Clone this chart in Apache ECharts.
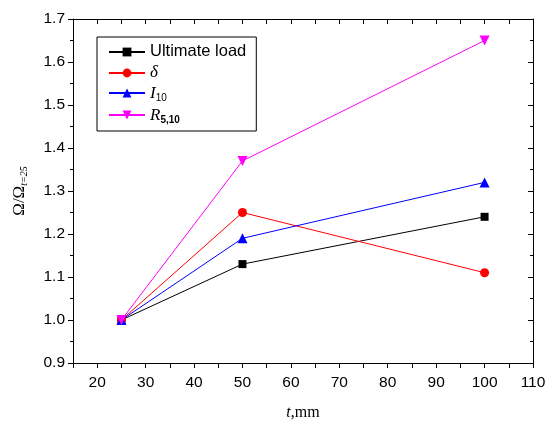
<!DOCTYPE html>
<html>
<head>
    <meta charset="utf-8"/>
    <script src="https://cdn.jsdelivr.net/npm/echarts@6/dist/echarts.min.js"></script>
</head>
<body style="margin:0;background:#fff;">
<div id="main" style="width: 548px;height:421px;"></div>
<script type="text/javascript">
    // 数据
    var thickness = [25, 50, 100];
    var ultimateLoad = [1.00, 1.13, 1.24];
    var delta = [1.00, 1.25, 1.11];
    var i10 = [1.00, 1.19, 1.32];
    var r510 = [1.00, 1.37, 1.65];

    function pairs(ys) {
        return thickness.map(function (x, k) { return [x, ys[k]]; });
    }

    var myChart = echarts.init(document.getElementById('main'));

    var sans = 'Liberation Sans, Arial, sans-serif';
    var serif = 'Liberation Serif, Times New Roman, serif';

    var legendRich = {
        n: {fontFamily: sans, fontSize: 16.5, color: '#000'},
        i: {fontFamily: serif, fontSize: 17, fontStyle: 'italic', color: '#000'},
        s: {fontFamily: sans, fontSize: 10, color: '#000', verticalAlign: 'bottom', padding: [9, 0, 0, 0]},
        sb: {fontFamily: sans, fontSize: 10, fontWeight: 'bold', color: '#000', verticalAlign: 'bottom', padding: [9, 0, 0, 0]}
    };
    var legendText = {
        'Ultimate load': '{n|Ultimate load}',
        'δ': '{i|δ}',
        'I10': '{i|I}{s|10}',
        'R5,10': '{i|R}{sb|5,10}'
    };

    function line(name, data, color, symbol, size) {
        return {
            name: name,
            type: 'line',
            data: pairs(data),
            symbol: symbol,
            symbolSize: size,
            lineStyle: {color: color, width: 1},
            itemStyle: {color: color},
            animation: false
        };
    }

    var option = {
        backgroundColor: '#fff',
        grid: {left: 73, right: 15, top: 19, bottom: 58, containLabel: false, outerBoundsMode: 'none'},
        legend: {
            orient: 'vertical',
            left: 97,
            top: 37,
            padding: [6, 10, 6, 11],
            itemGap: 4,
            itemWidth: 36,
            itemHeight: 11,
            borderColor: '#000',
            borderWidth: 1,
            data: ['Ultimate load', 'δ', 'I10', 'R5,10'],
            formatter: function (name) { return legendText[name]; },
            textStyle: {rich: legendRich, height: 18}
        },
        xAxis: [{
            type: 'value',
            min: 15,
            max: 110,
            interval: 5,
            name: '{i|t},mm',
            nameLocation: 'middle',
            nameGap: 42,
            nameTextStyle: {
                rich: {
                    i: {fontFamily: serif, fontStyle: 'italic', fontSize: 16, color: '#000'}
                },
                fontFamily: serif, fontSize: 16, color: '#000'
            },
            axisLine: {lineStyle: {color: '#000', width: 1}},
            axisTick: {show: true, inside: false, length: 5, lineStyle: {color: '#000'}},
            axisLabel: {
                fontFamily: sans, fontSize: 15.5, color: '#000', margin: 12,
                formatter: function (v) { return v % 10 === 0 ? String(v) : ''; }
            },
            splitLine: {show: false}
        }, {
            type: 'value',
            position: 'top',
            min: 15,
            max: 110,
            interval: 5,
            axisLine: {show: true, lineStyle: {color: '#000', width: 1}},
            axisTick: {show: true, inside: true, length: 5, lineStyle: {color: '#000'}},
            axisLabel: {show: false},
            splitLine: {show: false}
        }],
        yAxis: [{
            type: 'value',
            min: 0.9,
            max: 1.7,
            interval: 0.1,
            name: '{a|Ω/Ω}{s|t=25}',
            nameLocation: 'middle',
            nameRotate: 90,
            nameGap: 44,
            nameTextStyle: {
                rich: {
                    a: {fontFamily: serif, fontSize: 17, color: '#000'},
                    s: {fontFamily: serif, fontStyle: 'italic', fontSize: 10, color: '#000', verticalAlign: 'bottom', padding: [9, 0, 0, 0]}
                }
            },
            axisLine: {show: true, lineStyle: {color: '#000', width: 1}},
            axisTick: {show: true, inside: false, length: 5, lineStyle: {color: '#000'}},
            minorTick: {show: true, splitNumber: 2, length: 3, lineStyle: {color: '#000'}},
            axisLabel: {
                fontFamily: sans, fontSize: 15.5, color: '#000', margin: 8,
                formatter: function (v) { return v.toFixed(1); }
            },
            splitLine: {show: false}
        }, {
            type: 'value',
            position: 'right',
            min: 0.9,
            max: 1.7,
            interval: 0.1,
            axisLine: {show: true, lineStyle: {color: '#000', width: 1}},
            axisTick: {show: true, inside: true, length: 5, lineStyle: {color: '#000'}},
            minorTick: {show: true, splitNumber: 2, length: 3, lineStyle: {color: '#000'}},
            axisLabel: {show: false},
            splitLine: {show: false}
        }],
        series: [
            line('Ultimate load', ultimateLoad, '#000000', 'rect', 8),
            line('δ', delta, '#ff0000', 'circle', 9),
            line('I10', i10, '#0000ff', 'triangle', 10),
            line('R5,10', r510, '#ff00ff', 'path://M0,0 L10,0 L5,9 Z', 10)
        ]
    };

    myChart.setOption(option);
</script>
</body>
</html>
